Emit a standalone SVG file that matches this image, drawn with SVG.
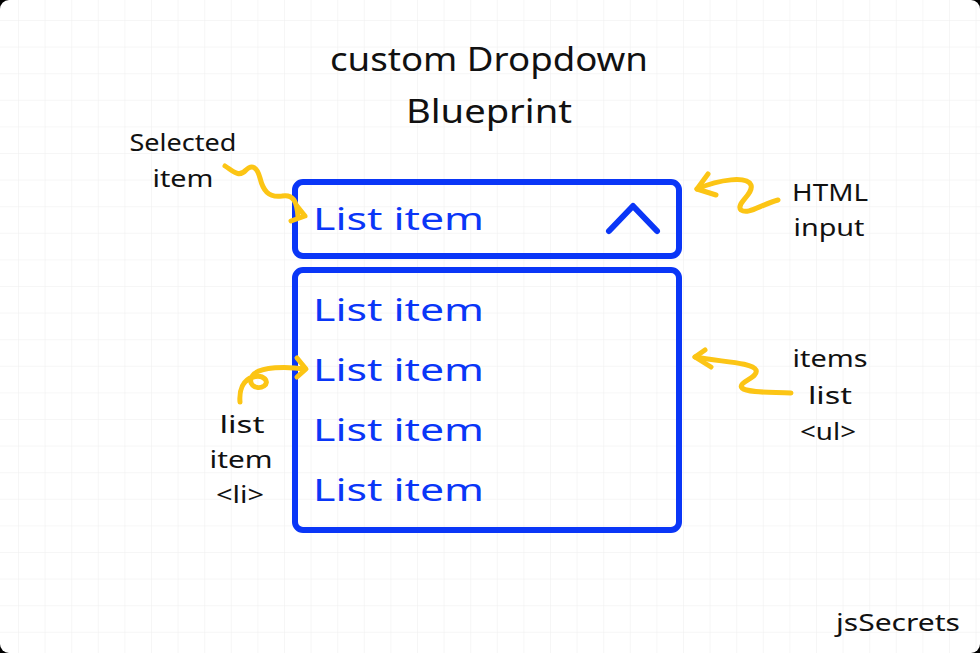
<svg xmlns="http://www.w3.org/2000/svg" width="980" height="653" viewBox="0 0 980 653">
  <defs>
    <pattern id="grid" x="18" y="20" width="26.6" height="26.6" patternUnits="userSpaceOnUse">
      <path d="M0,0 H26.6 M0,0 V26.6" fill="none" stroke="#eeeeee" stroke-width="1"/>
    </pattern>
    <style>
      .box { fill: none; stroke: #0a36f7; stroke-width: 6; }
      .item { font-family: "Noto Sans", "DejaVu Sans", sans-serif; font-size: 31px; fill: #0a36f7; }
      .label { font-family: "Noto Sans", "DejaVu Sans", sans-serif; font-size: 23px; fill: #111111; }
      .title { font-family: "Noto Sans", "DejaVu Sans", sans-serif; font-size: 33px; fill: #111111; }
      .arrow { fill: none; stroke: #fcc515; stroke-width: 5; stroke-linecap: round; stroke-linejoin: round; }
    </style>
  </defs>
  <rect x="0" y="0" width="980" height="653" fill="#000000"/>
  <rect x="0" y="0" width="980" height="653" rx="9" fill="#ffffff"/>
  <rect x="0" y="0" width="980" height="653" rx="9" fill="url(#grid)"/>

  <g id="title">
    <text class="title" x="489" y="71" text-anchor="middle" textLength="318" lengthAdjust="spacingAndGlyphs">custom Dropdown</text>
    <text class="title" x="489" y="123" text-anchor="middle" textLength="166" lengthAdjust="spacingAndGlyphs">Blueprint</text>
  </g>

  <g id="input-box">
    <rect class="box" x="295" y="182" width="384" height="74" rx="8"/>
    <text class="item" x="313" y="230" textLength="171" lengthAdjust="spacingAndGlyphs">List item</text>
    <path d="M609,231 L633,206 L657,231" fill="none" stroke="#0a36f7" stroke-width="6" stroke-linecap="round" stroke-linejoin="round"/>
  </g>

  <g id="items-list">
    <rect class="box" x="295" y="270" width="384" height="260" rx="8"/>
    <text class="item" x="313" y="321" textLength="171" lengthAdjust="spacingAndGlyphs">List item</text>
    <text class="item" x="313" y="381" textLength="171" lengthAdjust="spacingAndGlyphs">List item</text>
    <text class="item" x="313" y="441" textLength="171" lengthAdjust="spacingAndGlyphs">List item</text>
    <text class="item" x="313" y="501" textLength="171" lengthAdjust="spacingAndGlyphs">List item</text>
  </g>

  <g id="label-selected-item">
    <text class="label" x="183" y="151" text-anchor="middle" textLength="107" lengthAdjust="spacingAndGlyphs">Selected</text>
    <text class="label" x="183" y="187" text-anchor="middle" textLength="61" lengthAdjust="spacingAndGlyphs">item</text>
  </g>
  <g id="label-html-input">
    <text class="label" x="830" y="201" text-anchor="middle" textLength="76" lengthAdjust="spacingAndGlyphs">HTML</text>
    <text class="label" x="829" y="236" text-anchor="middle" textLength="71" lengthAdjust="spacingAndGlyphs">input</text>
  </g>
  <g id="label-items-list">
    <text class="label" x="830" y="367" text-anchor="middle" textLength="75" lengthAdjust="spacingAndGlyphs">items</text>
    <text class="label" x="830" y="404" text-anchor="middle" textLength="44" lengthAdjust="spacingAndGlyphs">list</text>
    <text class="label" x="828" y="440" text-anchor="middle" textLength="56" lengthAdjust="spacingAndGlyphs">&lt;ul&gt;</text>
  </g>
  <g id="label-list-item">
    <text class="label" x="242" y="433" text-anchor="middle" textLength="45" lengthAdjust="spacingAndGlyphs">list</text>
    <text class="label" x="241" y="468" text-anchor="middle" textLength="63" lengthAdjust="spacingAndGlyphs">item</text>
    <text class="label" x="240" y="503" text-anchor="middle" textLength="48" lengthAdjust="spacingAndGlyphs">&lt;li&gt;</text>
  </g>
  <g id="brand">
    <text class="label" x="898" y="631" text-anchor="middle" textLength="124" lengthAdjust="spacingAndGlyphs">jsSecrets</text>
  </g>

  <g id="connectors">
    <path class="arrow" d="M225,166 C233,171 239,178 246,170 C252,164 257,167 260,178 C263,190 268,198 282,196 C293,194 297,201 298,217"/>
    <path class="arrow" d="M291,221 L305,216 L297,206"/>
    <path class="arrow" d="M778,200 C760,205 748,215 741,210 C735,204 754,194 751,185 C747,176 720,179 697,189"/>
    <path class="arrow" d="M708,174 L697,189 L716,195"/>
    <path class="arrow" d="M791,393 C770,392 748,393 742,388 C737,382 759,378 756,370 C752,362 720,362 695,357"/>
    <path class="arrow" d="M705,350 L695,357 L711,367"/>
    <path class="arrow" d="M240,402 C239,390 243,380 253,377 C264,374 270,382 264,386 C256,391 245,383 254,374 C262,367 285,366 305,369"/>
    <path class="arrow" d="M297,358 L306,369 L297,377"/>
  </g>
</svg>
